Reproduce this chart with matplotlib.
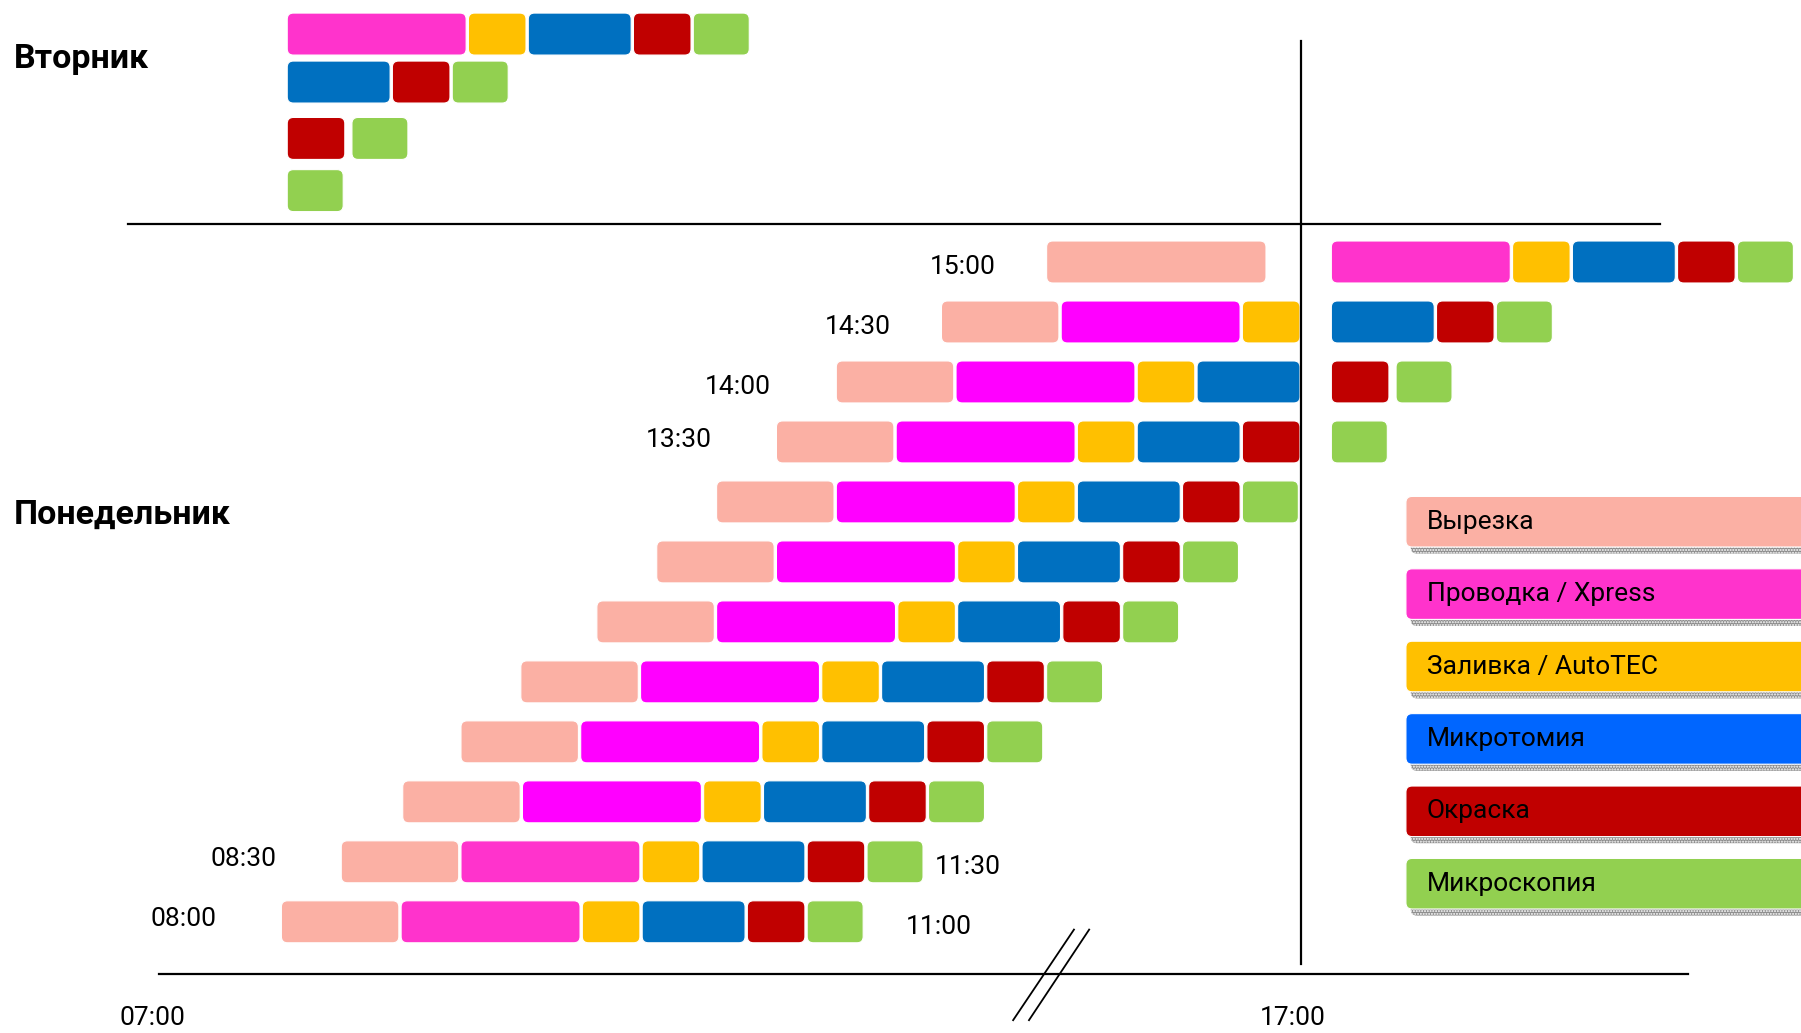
import matplotlib.pyplot as plt
from matplotlib.patches import FancyBboxPatch

plt.rcParams['font.family'] = ['Roboto', 'DejaVu Sans']

# Stages of the workflow
stages = ['Вырезка', 'Проводка / Xpress', 'Заливка / AutoTEC', 'Микротомия', 'Окраска', 'Микроскопия']
durations = [37, 56, 18.5, 32.5, 18.5, 18]  # minutes per stage

# Monday batches, top row first
mon_labels = ['15:00', '14:30', '14:00', '13:30', '', '', '', '', '', '', '08:30', '08:00']
mon_end_labels = ['', '', '', '', '', '', '', '', '', '', '11:30', '11:00']
mon_start = [236.5, 204, 171.5, 153, 134.5, 116, 97.5, 74, 55.5, 37.5, 18.5, 0]
mon_cut = [68.5, 37, 37, 37, 37, 37, 37, 37, 37, 37, 37, 37]  # cutting time per batch
mon_done = [1, 3, 4, 5, 6, 6, 6, 6, 6, 6, 6, 6]  # stages finished before 17:00

# Carry-over to Tuesday morning and after 17:00
tue_start = 1.8
late_start = 324.5
end_of_day = 315.5

colors = ['#FBB0A4', '#FF33CC', '#FFC000', '#0070C0', '#C00000', '#92D050']
legend_colors = ['#FBB0A4', '#FF33CC', '#FFC000', '#0066FF', '#C00000', '#92D050']
magenta = '#FF00FF'

fig = plt.figure(figsize=(18.01, 10.33), dpi=100)
ax = fig.add_axes([0, 0, 1, 1])
x0, x1 = -86.62, 470.0
y0, y1 = -4.368, 12.854
ax.set_xlim(x0, x1)
ax.set_ylim(y1, y0)
ax.axis('off')

# keep rounded corners circular in pixels
asp = (1801 / (x1 - x0)) / (1033 / (y1 - y0))
h = 0.70
gap = 0.7
r = 1.9


def block(x, y, w, color, height=h, aspect=asp):
    ax.add_patch(FancyBboxPatch((x + gap / 2, y - height / 2), w - gap, height,
                                boxstyle=f'round,pad=0,rounding_size={r}',
                                mutation_aspect=aspect, fc=color, ec='white', lw=0.8))


def stage_color(row, k):
    if k == 1 and 1 <= row <= 9:
        return magenta
    return colors[k]


tue_rows = [-3.8, -3.0, -2.06, -1.19]

for i, start in enumerate(mon_start):
    x = start
    for k in range(mon_done[i]):
        w = mon_cut[i] if k == 0 else durations[k]
        block(x, i, w, stage_color(i, k))
        x += w
    if mon_labels[i]:
        off = -36 if i < 2 else -46
        dy = 0.08 if i < 3 else -0.04
        ax.annotate(mon_labels[i], (start, i + dy), xytext=(off, 0), textcoords='offset points',
                    ha='right', va='center', fontsize=19)
    if mon_end_labels[i]:
        ax.annotate(mon_end_labels[i], (x, i + 0.08), xytext=(8 if i == 10 else 30, 0),
                    textcoords='offset points', ha='left', va='center', fontsize=19)
    # unfinished stages go on after 17:00 and on Tuesday morning
    if mon_done[i] < len(stages):
        xl = late_start
        xt = tue_start
        for k in range(mon_done[i], len(stages)):
            if k == 5 and mon_done[i] == 4:
                xl += 1.5
                xt += 1.5
            block(xl, i, durations[k], colors[k])
            block(xt, tue_rows[i], durations[k], colors[k])
            xl += durations[k]
            xt += durations[k]

# lines
ax.plot([-47.2, 426.3], [-0.632, -0.632], color='black', lw=1.6)
ax.plot([end_of_day, end_of_day], [-3.68, 11.70], color='black', lw=1.6)
ax.plot([-37.6, 435.2], [11.877, 11.877], color='black', lw=1.6)
ax.plot([226.5, 245.3], [12.64, 11.13], color='black', lw=1.3)
ax.plot([231.4, 250.0], [12.64, 11.13], color='black', lw=1.3)

ax.text(-39.6, 12.6, '07:00', ha='center', va='center', fontsize=19)
ax.text(313, 12.6, '17:00', ha='center', va='center', fontsize=19)

ax.text(-82.4, -3.39, 'Вторник', ha='left', va='center', fontsize=24.5, fontweight='bold')
ax.text(-82.4, 4.21, 'Понедельник', ha='left', va='center', fontsize=24.5, fontweight='bold')

# legend
for j, name in enumerate(stages):
    yc = 4.33 + 1.207 * j
    hl = 0.843
    ax.add_patch(FancyBboxPatch((349.4, yc - hl / 2 + 0.11), 140, hl,
                                boxstyle=f'round,pad=0,rounding_size={r}', mutation_aspect=asp,
                                fc='#8c8c8c', ec='white', lw=0, hatch='......'))
    ax.add_patch(FancyBboxPatch((347.9, yc - hl / 2), 140, hl,
                                boxstyle=f'round,pad=0,rounding_size={r}', mutation_aspect=asp,
                                fc=legend_colors[j], ec='white', lw=0.8))
    ax.text(354.3, yc, name, ha='left', va='center', fontsize=19)

fig.savefig('out.png', dpi=100)
